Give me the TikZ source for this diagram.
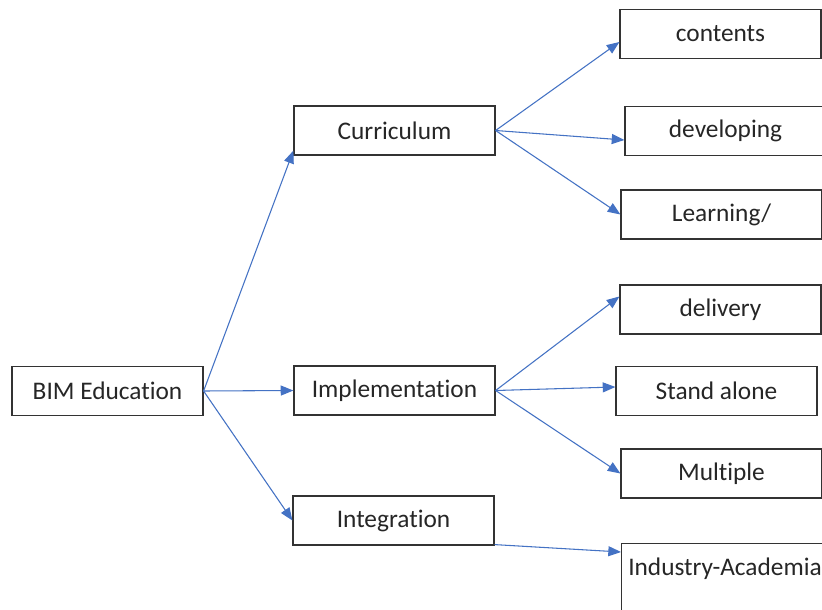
\documentclass[tikz,border=0pt]{standalone}
\usepackage{fontspec}
\setmainfont{Carlito}[RawFeature={-liga}]
\usetikzlibrary{calc,arrows.meta}
\definecolor{arrowblue}{HTML}{4472C4}
\definecolor{boxline}{HTML}{333333}
\definecolor{txt}{HTML}{262626}
\begin{document}
\begin{tikzpicture}[x=0.75pt,y=-0.75pt,
  box/.style={draw=boxline,line width=0.9pt,inner sep=0pt,minimum width=150.75pt,minimum height=36.75pt,
    text=txt,font=\fontsize{19}{22}\selectfont},
  plain/.style={inner sep=0pt,text=txt,font=\fontsize{19}{22}\selectfont},
  arr/.style={draw=arrowblue,line width=0.8pt,-{Triangle[length=9.5pt,width=7.5pt]}}]
\useasboundingbox (0,0) rectangle (822,610);
\clip (0,0) rectangle (822,610);
\fill[white] (0,0) rectangle (822,610);
% level 0
\node[box,minimum width=143.25pt] (bim) at (107.5,391) {BIM Education};
% level 1
\node[box] (cur) at (394.5,130.5) {Curriculum};
\node[box] (imp) at (394.5,390.5) {Implementation};
\node[box] (int) at (393.5,520.5) {Integration};
% level 2
\node[box] (con) at (720.5,34) {contents};
\node[box] (dev) at (725.5,131) {developing};
\node[box] (lea) at (721.5,214.5) {Learning/};
\node[box] (del) at (720.5,309.5) {delivery};
\node[box] (sta) at (716.5,391) {Stand alone};
\node[box] (mul) at (721.5,473.5) {Multiple};
\node[box,anchor=north west,minimum height=75pt] (ind) at (621,543) {};
\node[plain,anchor=west] (indt) at (628,569) {Industry-Academia};
% connectors
\draw[arr] (bim.east) -- ($(cur.south west)+(0,-5)$);
\draw[arr] (bim.east) -- (imp.west);
\draw[arr] (bim.east) -- (int.west);
\draw[arr] (cur.east) -- ($(con.west)+(0,8)$);
\draw[arr] (cur.east) -- ($(dev.west)+(0,9)$);
\draw[arr] (cur.east) -- (lea.west);
\draw[arr] (imp.east) -- ($(del.west)+(0,-13)$);
\draw[arr] (imp.east) -- ($(sta.west)+(0,-4)$);
\draw[arr] (imp.east) -- (mul.west);
\draw[arr] ($(int.south east)+(0,-1)$) -- ($(ind.north west)+(0,9)$);
\end{tikzpicture}
\end{document}
